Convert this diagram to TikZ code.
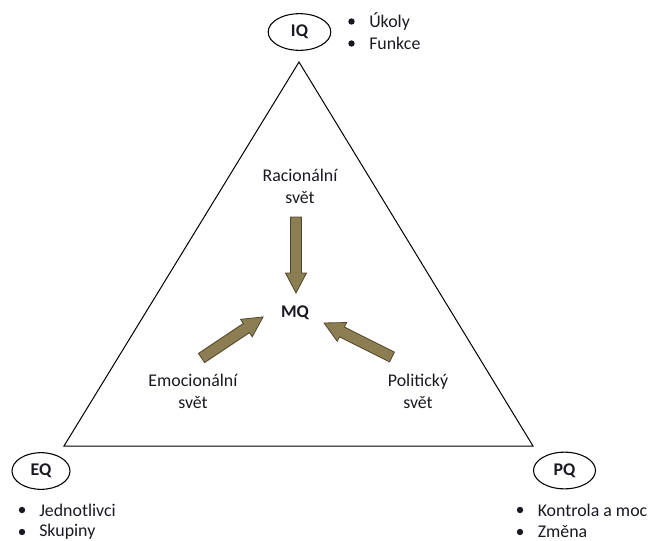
\documentclass[tikz,border=0pt]{standalone}
\usepackage{fontspec}
\setmainfont{Carlito}
\usetikzlibrary{shapes.geometric}
\definecolor{txt}{RGB}{25,25,35}
\definecolor{olivefill}{RGB}{140,126,82}
\definecolor{olivedraw}{RGB}{78,70,44}
\begin{document}
\begin{tikzpicture}[x=0.75pt,y=-0.75pt,
  every node/.style={text=txt,font=\fontsize{13.4}{16.3}\selectfont},
  qellipse/.style={draw,ellipse,line width=0.8pt,minimum width=#1,minimum height=27.5pt,inner sep=0pt,font=\fontsize{13.4}{16}\selectfont\bfseries},
  lbl/.style={align=center,inner sep=0pt},
  item/.style={anchor=west,inner sep=0pt},
  bul/.style={circle,fill=txt,inner sep=0pt,minimum size=4.8pt},
  bigarrow/.style={fill=olivefill,draw=olivedraw,line width=0.6pt,line join=miter}]
\useasboundingbox (0,0) rectangle (650,540);
% triangle
\coordinate (top) at (299,62);
\coordinate (bl) at (64,446);
\coordinate (br) at (533,446);
\draw[line width=0.75pt,line join=miter] (top) -- (bl) -- (br) -- cycle;
% ellipses
\node[qellipse=47pt] (iq) at (299.5,32) {IQ};
\node[qellipse=43.5pt] (eq) at (41,471) {EQ};
\node[qellipse=46.5pt] (pq) at (564.5,470.5) {PQ};
% bullet lists
\node[bul] (b1) at (351.5,21.5) {};
\node[item] (t1) at (369,21.5) {Úkoly};
\node[bul] (b2) at (351.5,43.5) {};
\node[item] (t2) at (369,43.5) {Funkce};
\node[bul] (b3) at (22,510) {};
\node[item] (t3) at (39,510) {Jednotlivci};
\node[bul] (b4) at (22,532) {};
\node[item] (t4) at (39,532) {Skupiny};
\node[bul] (b5) at (520,510) {};
\node[item] (t5) at (537.5,510) {Kontrola a moc};
\node[bul] (b6) at (520,532) {};
\node[item] (t6) at (537.5,532) {Změna};
% center labels
\node[lbl] (rac) at (300,186) {Racionální\\svět};
\node[lbl] (emo) at (193,391) {Emocionální\\svět};
\node[lbl] (pol) at (418,391) {Politický\\svět};
\node[inner sep=0pt,font=\fontsize{13.4}{16}\selectfont\bfseries] (mq) at (295,313) {MQ};
% arrows as shapes
\begin{scope}[shift={(296,217)},rotate=-90]
\draw[bigarrow] (0,-5.5) -- (56,-5.5) -- (56,-10.5) -- (76,0) -- (56,10.5) -- (56,5.5) -- (0,5.5) -- cycle;
\end{scope}
\begin{scope}[shift={(201.5,358)},rotate=33.7]
\draw[bigarrow] (0,-5.5) -- (54,-5.5) -- (54,-10.5) -- (74,0) -- (54,10.5) -- (54,5.5) -- (0,5.5) -- cycle;
\end{scope}
\begin{scope}[shift={(392,357)},rotate=153.4]
\draw[bigarrow] (0,-5.5) -- (56,-5.5) -- (56,-10.5) -- (76,0) -- (56,10.5) -- (56,5.5) -- (0,5.5) -- cycle;
\end{scope}
\end{tikzpicture}
\end{document}
